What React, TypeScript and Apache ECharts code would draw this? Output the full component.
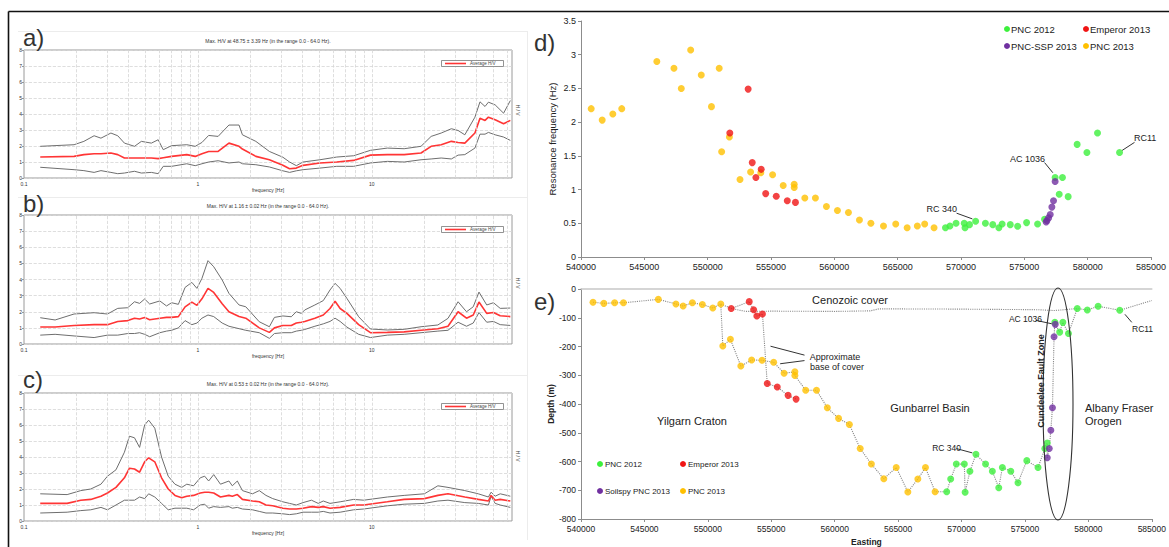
import React, { useEffect, useRef } from "react";
import * as echarts from "echarts";

const W = 1169;
const H = 547;
const FONT = "Liberation Sans, Arial, sans-serif";

// ---------- Panels a-c: H/V spectral ratio curves (frequency in Hz) ----------
const freqA = [0.124,0.194,0.221,0.253,0.277,0.316,0.346,0.378,0.432,0.473,0.540,0.591,0.632,0.706,0.863,0.965,1.055,1.153,1.307,1.508,1.724,1.803,2.154,2.576,3.079,3.367,3.681,4.024,5.030,6.288,7.860,9.822,12.28,15.35,19.19,21.94,25.07,28.67,31.34,34.27,39.17,41.89,44.79,46.83,51.20,57.24,62.60];
const upperA = [1.98,2.08,2.29,2.64,2.49,2.81,2.64,2.18,1.98,2.29,2.18,2.39,1.77,2.02,2.08,1.98,2.22,2.66,2.60,3.31,3.31,2.70,2.29,1.66,1.30,1.00,0.77,1.00,1.14,1.31,1.39,1.73,1.87,1.83,1.98,2.60,2.81,3.08,2.97,2.70,3.80,4.76,4.47,4.74,4.57,4.05,4.84];
const avgA = [1.31,1.35,1.46,1.52,1.52,1.56,1.46,1.25,1.25,1.25,1.25,1.21,1.27,1.35,1.46,1.35,1.52,1.66,1.66,2.18,1.98,1.81,1.35,1.14,0.80,0.58,0.62,0.79,0.94,1.00,1.10,1.43,1.46,1.46,1.56,1.98,2.08,2.29,2.22,2.18,2.81,3.74,3.60,3.80,3.64,3.39,3.60];
const lowerA = [0.67,0.52,0.46,0.35,0.46,0.35,0.27,0.31,0.42,0.31,0.35,0.27,0.73,0.73,0.89,0.77,0.89,1.00,1.08,0.94,1.00,0.89,0.83,0.69,0.45,0.35,0.45,0.52,0.62,0.73,0.73,0.94,1.04,1.00,1.14,1.19,1.25,1.19,1.43,1.46,1.87,2.74,2.74,2.85,2.70,2.56,2.35];

const freqB = [0.124,0.151,0.194,0.253,0.302,0.346,0.395,0.432,0.462,0.494,0.528,0.604,0.660,0.706,0.772,0.844,0.923,0.987,1.055,1.143,1.233,1.379,1.508,1.724,1.885,2.253,2.576,2.754,3.079,3.443,3.681,3.936,4.115,4.705,5.259,5.750,6.149,6.575,7.189,8.403,9.822,12.28,15.35,19.19,23.98,27.42,31.34,35.04,38.31,41.33,45.80,50.07,54.74,62.60];
const upperB = [1.63,1.49,1.86,1.94,1.86,2.21,2.25,2.62,2.52,2.79,2.48,2.67,2.36,2.56,2.46,3.51,3.82,3.45,4.07,5.17,4.79,3.97,3.14,2.42,2.31,1.38,1.07,1.65,1.74,1.69,2.00,1.90,2.11,2.42,2.69,3.35,3.76,3.45,2.83,1.69,0.93,0.87,0.91,1.07,1.18,1.59,2.62,2.00,2.31,3.22,2.42,2.56,2.21,2.23];
const avgB = [1.05,1.05,1.15,1.20,1.20,1.40,1.45,1.60,1.55,1.65,1.50,1.60,1.65,1.65,1.70,2.30,2.60,2.40,2.80,3.45,3.20,2.50,2.00,1.70,1.60,1.00,0.72,1.00,1.15,1.15,1.30,1.35,1.40,1.60,1.80,2.20,2.65,2.20,1.90,1.20,0.70,0.72,0.75,0.85,0.95,1.10,2.00,1.60,1.80,2.60,1.90,1.95,1.75,1.70];
const lowerB = [0.55,0.60,0.50,0.40,0.55,0.55,0.65,0.65,0.70,0.60,0.45,0.70,0.80,0.85,1.00,1.45,1.20,1.30,1.60,1.80,1.70,1.30,1.10,0.95,0.85,0.70,0.35,0.65,0.70,0.70,0.80,0.85,0.90,1.10,1.25,1.40,1.60,1.40,1.05,0.60,0.40,0.55,0.60,0.70,0.80,0.85,1.35,1.10,1.30,1.95,1.35,1.40,1.20,1.15];

const freqC = [0.124,0.177,0.212,0.242,0.277,0.302,0.338,0.378,0.404,0.432,0.462,0.494,0.521,0.565,0.618,0.675,0.738,0.807,0.863,0.944,1.032,1.094,1.153,1.233,1.348,1.508,1.577,1.686,1.803,2.061,2.253,2.463,2.693,3.079,3.367,3.681,4.024,4.499,4.919,5.259,5.750,6.575,7.860,8.985,12.28,15.35,20.06,23.98,27.42,34.27,40.96,46.83,48.53,51.20,54.74,62.60];
const upperC = [1.70,1.65,1.90,2.00,2.30,2.80,3.20,4.30,5.30,5.20,4.60,6.00,6.30,5.80,4.00,2.80,2.30,2.10,2.30,2.20,2.70,2.80,2.50,2.90,2.30,2.50,2.20,2.50,1.90,1.70,1.90,1.60,1.40,1.20,1.10,1.00,1.15,1.30,1.10,1.25,1.10,1.20,1.35,1.30,1.50,1.60,1.70,2.20,2.10,1.90,1.70,1.50,1.80,1.55,1.70,1.55];
const avgC = [1.10,1.10,1.30,1.35,1.55,1.75,2.10,2.70,3.30,3.25,3.05,3.70,3.95,3.70,2.70,2.00,1.60,1.45,1.55,1.60,1.75,1.80,1.80,1.75,1.50,1.60,1.55,1.65,1.35,1.25,1.20,1.00,0.95,0.80,0.75,0.75,0.80,0.90,0.85,0.90,0.80,0.85,1.00,1.00,1.20,1.35,1.40,1.60,1.70,1.50,1.35,1.25,1.60,1.30,1.35,1.25];
const lowerC = [0.50,0.55,0.65,0.70,0.85,0.70,1.00,1.30,1.30,1.30,1.50,1.40,1.70,1.50,1.10,0.70,0.80,0.80,0.80,0.70,1.00,1.05,0.80,0.90,0.85,0.90,0.80,0.85,0.75,0.70,0.60,0.50,0.50,0.45,0.40,0.45,0.55,0.55,0.55,0.60,0.50,0.55,0.70,0.75,0.95,1.05,1.10,1.25,1.30,1.15,1.10,1.00,1.55,1.10,1.00,0.85];

const titles = [
  "Max. H/V at 48.75 \u00b1 3.39 Hz (in the range 0.0 - 64.0 Hz).",
  "Max. H/V at 1.16 \u00b1 0.02 Hz (in the range 0.0 - 64.0 Hz).",
  "Max. H/V at 0.53 \u00b1 0.02 Hz (in the range 0.0 - 64.0 Hz).",
];
const logGridFreqs = [0.2,0.3,0.4,0.5,0.6,0.7,0.8,0.9,1,2,3,4,5,6,7,8,9,10,20,30,40,50,60];

// ---------- Panel d: resonance frequency (Hz) vs easting ----------
const pnc2012D = [[568774,0.435],[569128,0.46],[569610,0.50],[570254,0.50],[570318,0.435],[570673,0.48],[571156,0.53],[571928,0.50],[572508,0.48],[572990,0.435],[573248,0.49],[573892,0.48],[574471,0.455],[575179,0.51],[576048,0.49],[576596,0.56],[577432,1.18],[578012,1.18],[577754,0.93],[578462,0.895],[579170,1.67],[579942,1.55],[580779,1.84],[582518,1.55]];
const emperor2013D = [[553196,2.49],[551748,1.84],[553519,1.40],[554226,1.30],[553808,1.18],[554580,0.94],[555417,0.90],[556286,0.835],[556930,0.81]];
const pncSsp2013D = [[577432,1.12],[577304,0.835],[577175,0.74],[577046,0.63],[576917,0.58],[576788,0.54],[576724,0.52]];
const pnc2013D = [[540805,2.20],[541674,2.03],[542510,2.12],[543219,2.20],[545987,2.90],[547339,2.80],[547918,2.50],[548658,3.07],[549495,2.70],[550300,2.23],[550911,2.80],[551104,1.56],[551716,1.78],[552553,1.15],[553390,1.26],[554194,1.25],[555127,1.22],[555964,1.06],[556833,1.08],[556833,1.03],[557670,0.875],[558507,0.875],[559376,0.75],[560245,0.69],[561114,0.66],[561983,0.55],[562884,0.50],[563882,0.46],[564848,0.49],[565749,0.435],[566553,0.46],[567133,0.49],[567873,0.435]];

// ---------- Panel e: depth (m) vs easting ----------
const pnc2012E = [[568830,-705],[569145,-661],[569587,-609],[570219,-609],[570282,-707],[570661,-634],[571135,-575],[571893,-609],[572429,-634],[572934,-691],[573219,-621],[573882,-634],[574450,-674],[575145,-597],[576030,-621],[576567,-555],[576756,-536],[577356,-116],[577735,-150],[577987,-116],[578429,-155],[579124,-68],[579914,-73],[580766,-60],[582471,-74]];
const emperor2013E = [[551842,-68],[553262,-44],[553610,-72],[553862,-94],[554304,-87],[554683,-329],[555472,-341],[556325,-370],[556956,-383]];
const soilspy2013E = [[576756,-587],[576914,-555],[577040,-491],[577167,-413],[577293,-166],[577388,-123]];
const pnc2013E = [[540947,-46],[541800,-50],[542652,-48],[543347,-48],[546094,-36],[547484,-52],[548052,-59],[548779,-48],[549568,-54],[550389,-66],[551021,-52],[551179,-198],[551779,-175],[552600,-268],[553452,-247],[554272,-248],[555188,-255],[556009,-293],[556862,-288],[556862,-301],[557714,-352],[558567,-352],[559420,-413],[560303,-450],[561156,-471],[562009,-555],[562893,-609],[563872,-660],[564851,-621],[565767,-706],[566556,-661],[567156,-621],[567914,-705]];
const cenozoicBase = [[551021,-52],[551842,-68],[553000,-78],[555000,-77],[560000,-78],[562800,-76],[563500,-69],[570000,-70],[576000,-72],[577300,-75],[579124,-68]];
const coverTail = [[582471,-74],[585000,-40]];

const GREEN = "#3cf03c";
const RED = "#f01414";
const PURPLE = "#7030a0";
const ORANGE = "#ffc000";

function zip(xs: number[], ys: number[]) {
  return xs.map((x, i) => [x, ys[i]]);
}

function txt(text: string, x: number, y: number, size: number, o: any = {}) {
  return {
    type: "text",
    x,
    y,
    rotation: o.rot || 0,
    silent: true,
    z: 20,
    style: {
      text,
      fontSize: size,
      fontFamily: FONT,
      fontWeight: o.bold ? "bold" : "normal",
      fill: o.color || "#222",
      align: o.align || "left",
      verticalAlign: "middle",
      textAlign: o.align || "left",
      textVerticalAlign: "middle",
    },
  };
}

function buildOption() {
  const hvSets = [
    { f: freqA, u: upperA, a: avgA, l: lowerA },
    { f: freqB, u: upperB, a: avgB, l: lowerB },
    { f: freqC, u: upperC, a: avgC, l: lowerC },
  ];
  const hvTops = [50, 215, 393];
  const hvHeights = [128, 129, 128];

  const grid: any[] = hvTops.map((t, i) => ({
    left: 24,
    top: t,
    width: 488,
    height: hvHeights[i],
    show: true,
    borderColor: "#9a9a9a",
    borderWidth: 1,
  }));
  grid.push({ left: 581, top: 21, width: 570, height: 236 });
  grid.push({ left: 581, top: 289, width: 581, height: 230 });

  const xAxis: any[] = [];
  const yAxis: any[] = [];
  const series: any[] = [];

  hvSets.forEach((s, i) => {
    xAxis.push({
      type: "log",
      logBase: 10,
      min: 0.1,
      max: 64,
      gridIndex: i,
      axisLine: { show: false },
      axisTick: { show: false },
      splitLine: { show: false },
      axisLabel: {
        fontSize: 5,
        color: "#333",
        margin: 3,
        showMaxLabel: false,
        formatter: (v: number) => String(+Number(v).toPrecision(2)),
      },
      name: "frequency [Hz]",
      nameLocation: "middle",
      nameGap: 9,
      nameTextStyle: { fontSize: 5, color: "#333", fontFamily: FONT },
    });
    yAxis.push({
      type: "value",
      gridIndex: i,
      min: 0,
      max: 8,
      interval: 1,
      axisLine: { show: false },
      axisTick: { show: true, length: 2, lineStyle: { color: "#999" } },
      axisLabel: { fontSize: 5, color: "#333", margin: 2 },
      splitLine: { show: true, lineStyle: { type: "dashed", color: "#d6d6d6", width: 0.8 } },
    });
    series.push({
      type: "line",
      xAxisIndex: i,
      yAxisIndex: i,
      data: [],
      silent: true,
      z: 1,
      markLine: {
        silent: true,
        symbol: ["none", "none"],
        label: { show: false },
        lineStyle: { type: "dashed", color: "#d6d6d6", width: 0.8 },
        data: logGridFreqs.map((f) => ({ xAxis: f })),
      },
    });
    series.push({
      type: "line", xAxisIndex: i, yAxisIndex: i, data: zip(s.f, s.u),
      symbol: "none", silent: true, z: 2, lineStyle: { color: "#6e6e6e", width: 1 },
    });
    series.push({
      type: "line", xAxisIndex: i, yAxisIndex: i, data: zip(s.f, s.l),
      symbol: "none", silent: true, z: 2, lineStyle: { color: "#6e6e6e", width: 1 },
    });
    series.push({
      type: "line", xAxisIndex: i, yAxisIndex: i, data: zip(s.f, s.a),
      symbol: "none", silent: true, z: 3, lineStyle: { color: "#ff3535", width: 1.6 },
    });
  });

  const axisGray = "#8c8c8c";
  const plain = (v: number) => String(v);
  // d axes
  xAxis.push({
    type: "value", gridIndex: 3, min: 540000, max: 585000, interval: 5000,
    axisLine: { show: true, onZero: false, lineStyle: { color: axisGray } },
    axisTick: { show: true, length: 3, lineStyle: { color: axisGray } },
    axisLabel: { fontSize: 9, color: "#222", margin: 5, fontFamily: FONT, formatter: plain },
    splitLine: { show: false },
  });
  yAxis.push({
    type: "value", gridIndex: 3, min: 0, max: 3.5, interval: 0.5,
    axisLine: { show: true, lineStyle: { color: axisGray } },
    axisTick: { show: true, length: 3, lineStyle: { color: axisGray } },
    axisLabel: { fontSize: 9, color: "#222", margin: 5, fontFamily: FONT },
    splitLine: { show: false },
    name: "Resonance frequency (Hz)", nameLocation: "middle", nameGap: 24,
    nameTextStyle: { fontSize: 9.5, color: "#222", fontFamily: FONT },
  });
  // e axes
  xAxis.push({
    type: "value", gridIndex: 4, min: 540000, max: 585000, interval: 5000, position: "bottom",
    axisLine: { show: true, onZero: false, lineStyle: { color: axisGray } },
    axisTick: { show: true, length: 3, lineStyle: { color: axisGray } },
    axisLabel: { fontSize: 8.5, color: "#222", margin: 5, fontFamily: FONT, formatter: plain },
    splitLine: { show: false },
    name: "Easting", nameLocation: "middle", nameGap: 18,
    nameTextStyle: { fontSize: 8.5, fontWeight: "bold", color: "#222", fontFamily: FONT },
  });
  xAxis.push({
    type: "value", gridIndex: 4, min: 540000, max: 585000, position: "top",
    axisLine: { show: true, onZero: false, lineStyle: { color: "#c8c8c8", width: 1.5 } },
    axisTick: { show: false }, axisLabel: { show: false }, splitLine: { show: false },
  });
  yAxis.push({
    type: "value", gridIndex: 4, min: -800, max: 0, interval: 100,
    axisLine: { show: true, lineStyle: { color: axisGray } },
    axisTick: { show: true, length: 3, lineStyle: { color: axisGray } },
    axisLabel: { fontSize: 8.5, color: "#222", margin: 5, fontFamily: FONT },
    splitLine: { show: false },
    name: "Depth (m)", nameLocation: "middle", nameGap: 26,
    nameTextStyle: { fontSize: 8.5, fontWeight: "bold", color: "#222", fontFamily: FONT },
  });

  const arrowML = (pairs: number[][][]) => ({
    silent: true,
    symbol: ["none", "arrow"],
    symbolSize: [0, 7],
    label: { show: false },
    lineStyle: { color: "#333", width: 1, type: "solid" },
    data: pairs.map((p) => [{ coord: p[0] }, { coord: p[1] }]),
  });

  // d scatter
  const dSets: [string, number[][], string][] = [
    ["PNC 2013", pnc2013D, ORANGE],
    ["Emperor 2013", emperor2013D, RED],
    ["PNC 2012", pnc2012D, GREEN],
    ["PNC-SSP 2013", pncSsp2013D, PURPLE],
  ];
  dSets.forEach(([name, data, color]) => {
    series.push({
      type: "scatter", name, xAxisIndex: 3, yAxisIndex: 3, data, symbolSize: 7,
      itemStyle: { color }, silent: true, z: 5,
    });
  });
  series.push({
    type: "line", xAxisIndex: 3, yAxisIndex: 3, data: [], silent: true, z: 6,
    markLine: arrowML([
      [[576600, 1.40], [577250, 1.25]],
      [[569650, 0.65], [570900, 0.565]],
      [[583700, 1.70], [582720, 1.58]],
    ]),
  });

  // e connecting dotted lines
  const mainProfile = [...pnc2013E, ...pnc2012E, ...soilspy2013E].sort((a, b) => a[0] - b[0]);
  const dotted = { type: "dotted", color: "#8a8a8a", width: 1.1 };
  [mainProfile, emperor2013E, cenozoicBase, coverTail].forEach((d) => {
    series.push({
      type: "line", xAxisIndex: 4, yAxisIndex: 4, data: d, symbol: "none",
      silent: true, z: 2, lineStyle: dotted,
    });
  });
  const eSets: [string, number[][], string][] = [
    ["PNC 2013", pnc2013E, ORANGE],
    ["Emperor 2013", emperor2013E, RED],
    ["PNC 2012", pnc2012E, GREEN],
    ["Soilspy PNC 2013", soilspy2013E, PURPLE],
  ];
  eSets.forEach(([name, data, color]) => {
    series.push({
      type: "scatter", name, xAxisIndex: 4, yAxisIndex: 4, data, symbolSize: 7,
      itemStyle: { color }, silent: true, z: 5,
    });
  });
  series.push({
    type: "line", xAxisIndex: 4, yAxisIndex: 4, data: [], silent: true, z: 6,
    markLine: arrowML([
      [[575850, -109], [577120, -121]],
      [[583420, -116], [582880, -88]],
      [[569590, -555], [570850, -570]],
      [[557620, -230], [554940, -199]],
      [[557620, -249], [555700, -260]],
    ]),
  });

  // ---------- graphic decorations ----------
  const g: any[] = [];
  const faint = { stroke: "#ececec", lineWidth: 1 };
  g.push({ type: "line", shape: { x1: 18, y1: 31.5, x2: 527, y2: 31.5 }, style: faint, silent: true });
  g.push({ type: "line", shape: { x1: 18, y1: 197.5, x2: 527, y2: 197.5 }, style: faint, silent: true });
  g.push({ type: "line", shape: { x1: 18, y1: 375.5, x2: 527, y2: 375.5 }, style: faint, silent: true });
  g.push({ type: "line", shape: { x1: 527.5, y1: 31, x2: 527.5, y2: 540 }, style: faint, silent: true });
  g.push({ type: "line", shape: { x1: 8.5, y1: 11.5, x2: W, y2: 11.5 }, style: { stroke: "#111", lineWidth: 1.6 }, silent: true });
  g.push({ type: "line", shape: { x1: 8.5, y1: 11.5, x2: 8.5, y2: H }, style: { stroke: "#111", lineWidth: 1.6 }, silent: true });

  const hvLabels = ["a)", "b)", "c)"];
  const labelY = [37, 203, 379];
  const titleY = [41, 206, 384];
  const legY = [60, 226, 403];
  const hvY = [110, 283, 456];
  hvLabels.forEach((l, i) => {
    g.push(txt(l, 23, labelY[i], 24, { color: "#333" }));
    g.push(txt(titles[i], 268, titleY[i], 5, { align: "center", color: "#333" }));
    g.push({ type: "rect", shape: { x: 441.5, y: legY[i] + 0.5, width: 62, height: 6 }, style: { fill: "#fff", stroke: "#777", lineWidth: 0.8 }, silent: true, z: 15 });
    g.push({ type: "line", shape: { x1: 445, y1: legY[i] + 3.5, x2: 466, y2: legY[i] + 3.5 }, style: { stroke: "#ff3535", lineWidth: 1.6 }, silent: true, z: 16 });
    g.push(txt("Average H/V", 470, legY[i] + 3.5, 4.5, { color: "#444" }));
    g.push(txt("H / V", 518, hvY[i], 5, { align: "center", rot: -Math.PI / 2, color: "#444" }));
  });

  g.push(txt("d)", 534, 42, 24, { color: "#333" }));
  const legD: [string, string, number, number][] = [
    ["PNC 2012", GREEN, 1007, 29],
    ["Emperor 2013", RED, 1086, 29],
    ["PNC-SSP 2013", PURPLE, 1007, 46],
    ["PNC 2013", ORANGE, 1086, 46],
  ];
  legD.forEach(([t, c, x, y]) => {
    g.push({ type: "circle", shape: { cx: x, cy: y, r: 3 }, style: { fill: c }, silent: true, z: 20 });
    g.push(txt(t, x + 4, y, 9.5));
  });
  g.push(txt("AC 1036", 1045, 159, 9, { align: "right" }));
  g.push(txt("RC 340", 957, 209, 9, { align: "right" }));
  g.push(txt("RC11", 1134, 138, 9));

  g.push(txt("e)", 534, 301, 24, { color: "#333" }));
  const legE: [string, string, number, number][] = [
    ["PNC 2012", GREEN, 600, 464],
    ["Emperor 2013", RED, 683, 464],
    ["Soilspy PNC 2013", PURPLE, 600, 491],
    ["PNC 2013", ORANGE, 683, 491],
  ];
  legE.forEach(([t, c, x, y]) => {
    g.push({ type: "circle", shape: { cx: x, cy: y, r: 3 }, style: { fill: c }, silent: true, z: 20 });
    g.push(txt(t, x + 5, y, 8));
  });
  g.push(txt("Cenozoic cover", 850, 300, 11, { align: "center" }));
  g.push(txt("Approximate", 835, 357, 9, { align: "center" }));
  g.push(txt("base of cover", 837, 367, 9, { align: "center" }));
  g.push(txt("Yilgarn Craton", 692, 421, 11, { align: "center" }));
  g.push(txt("Gunbarrel Basin", 930, 408, 11, { align: "center" }));
  g.push(txt("Albany Fraser", 1085, 408, 11));
  g.push(txt("Orogen", 1085, 421, 11));
  g.push(txt("AC 1036", 1042, 319, 8.5, { align: "right" }));
  g.push(txt("RC11", 1132, 329, 8.5));
  g.push(txt("RC 340", 961, 448, 8.5, { align: "right" }));
  g.push(txt("Cundeelee Fault Zone", 1041, 381, 9, { align: "center", bold: true, rot: Math.PI / 2 }));
  g.push({ type: "ellipse", shape: { cx: 1058, cy: 404, rx: 15, ry: 116 }, style: { fill: "none", stroke: "#333", lineWidth: 1.1 }, silent: true, z: 18 });

  return {
    animation: false,
    backgroundColor: "#ffffff",
    textStyle: { fontFamily: FONT },
    grid,
    xAxis,
    yAxis,
    series,
    graphic: g,
  };
}

export default function App() {
  const ref = useRef<HTMLDivElement>(null);
  useEffect(() => {
    document.body.style.margin = "0";
    const chart = echarts.init(ref.current as HTMLDivElement, null, { renderer: "svg" });
    chart.setOption(buildOption() as any);
    return () => chart.dispose();
  }, []);
  return <div ref={ref} style={{ width: W, height: H, background: "#fff" }} />;
}
